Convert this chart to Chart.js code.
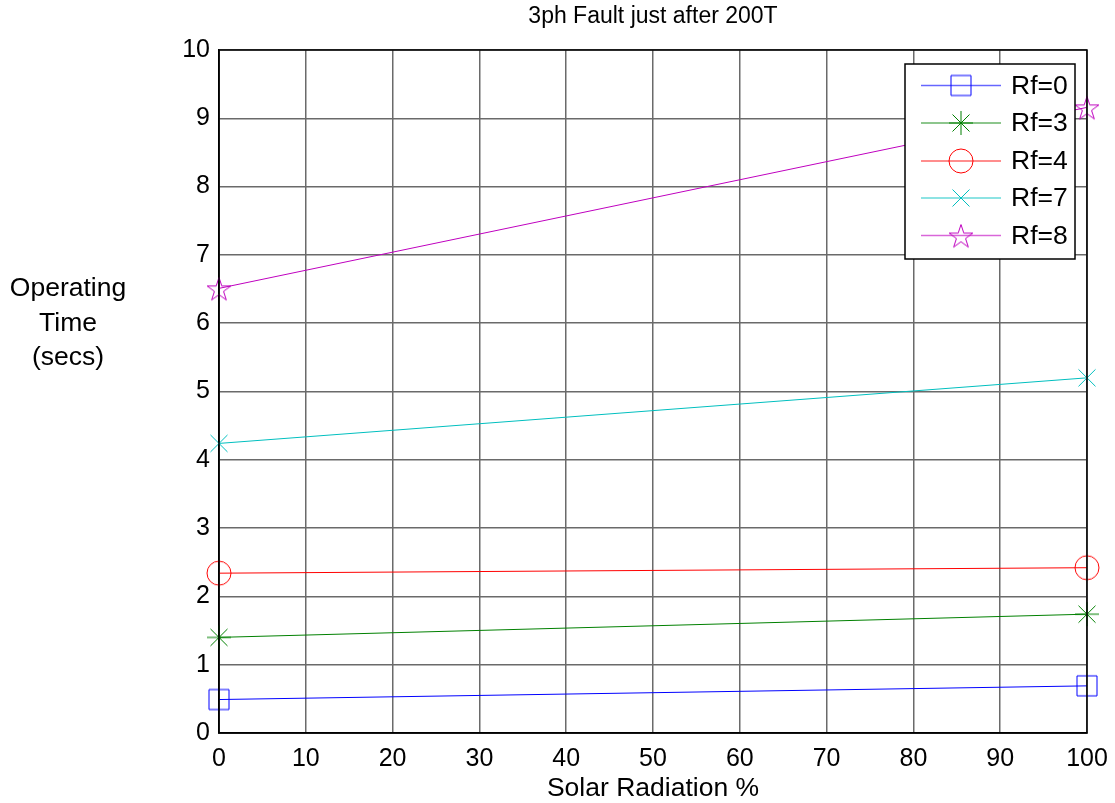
<!DOCTYPE html>
<html>
<head>
<meta charset="utf-8">
<script src="https://cdn.jsdelivr.net/npm/chart.js@4/dist/chart.umd.min.js"></script>
<style>
  html, body { margin: 0; padding: 0; background: #fff; }
  #wrap { width: 1115px; height: 803px; }
</style>
</head>
<body>
<div id="wrap"><canvas id="c" width="1115" height="803"></canvas></div>
<script>
// Solar radiation levels (%) and operating times (s) for each fault resistance
const solarRadiation = [0, 100];
const rf0 = [0.49, 0.69];
const rf3 = [1.40, 1.74];
const rf4 = [2.34, 2.42];
const rf7 = [4.24, 5.20];
const rf8 = [6.51, 9.16];
const seriesLabels = ['Rf=0', 'Rf=3', 'Rf=4', 'Rf=7', 'Rf=8'];
const xTicks = [0, 10, 20, 30, 40, 50, 60, 70, 80, 90, 100];
const yTicks = [0, 1, 2, 3, 4, 5, 6, 7, 8, 9, 10];

const FONT = '"Liberation Sans", Arial, sans-serif';

// Marker glyphs drawn onto small canvases so the plot and the legend share them
function makeMarker(kind, color) {
  const s = 30, c = s / 2;
  const cv = document.createElement('canvas');
  cv.width = s; cv.height = s;
  const g = cv.getContext('2d');
  g.strokeStyle = color;
  g.lineWidth = 1;
  g.beginPath();
  if (kind === 'square') {
    g.rect(c - 10, c - 10, 20, 20);
  } else if (kind === 'asterisk') {
    const r = 12, d = 8.5;
    g.moveTo(c, c - r); g.lineTo(c, c + r);
    g.moveTo(c - r, c); g.lineTo(c + r, c);
    g.moveTo(c - d, c - d); g.lineTo(c + d, c + d);
    g.moveTo(c - d, c + d); g.lineTo(c + d, c - d);
  } else if (kind === 'circle') {
    g.arc(c, c, 12, 0, Math.PI * 2);
  } else if (kind === 'cross') {
    const d = 8.5;
    g.moveTo(c - d, c - d); g.lineTo(c + d, c + d);
    g.moveTo(c - d, c + d); g.lineTo(c + d, c - d);
  } else if (kind === 'pentagram') {
    const ro = 12.5, ri = ro * 0.382;
    for (let i = 0; i < 10; i++) {
      const r = i % 2 === 0 ? ro : ri;
      const a = -Math.PI / 2 + i * Math.PI / 5;
      const px = c + r * Math.cos(a), py = c + 1.5 + r * Math.sin(a);
      if (i === 0) g.moveTo(px, py); else g.lineTo(px, py);
    }
    g.closePath();
  }
  g.stroke();
  return cv;
}

const colors = ['#0000ff', '#008000', '#ff0000', '#00bfbf', '#bf00bf'];
const kinds = ['square', 'asterisk', 'circle', 'cross', 'pentagram'];
const values = [rf0, rf3, rf4, rf7, rf8];
const markers = kinds.map((k, i) => makeMarker(k, colors[i]));

const datasets = values.map((v, i) => ({
  label: seriesLabels[i],
  data: solarRadiation.map((x, j) => ({ x: x, y: v[j] })),
  borderColor: colors[i],
  borderWidth: 1,
  pointStyle: markers[i],
  pointRadius: 12,
  pointHoverRadius: 12,
  fill: false,
  tension: 0,
  clip: false
}));

// Frame, axis labels, title and legend box
const decorations = {
  id: 'decorations',
  afterDatasetsDraw(chart) {
    const ctx = chart.ctx, a = chart.chartArea;
    ctx.save();
    ctx.strokeStyle = '#000';
    ctx.lineWidth = 1.5;
    ctx.strokeRect(a.left, a.top, a.right - a.left, a.bottom - a.top);

    ctx.fillStyle = '#000';
    ctx.textAlign = 'center';
    ctx.textBaseline = 'middle';
    ctx.font = '23px ' + FONT;
    ctx.fillText('3ph Fault just after 200T', (a.left + a.right) / 2, 17);

    ctx.font = '26.5px ' + FONT;
    ctx.fillText('Solar Radiation %', (a.left + a.right) / 2, 789);

    ctx.font = '26.5px ' + FONT;
    ['Operating', 'Time', '(secs)'].forEach((t, i) => ctx.fillText(t, 68, 289 + i * 34.5));

    // legend
    const lx = 905, ly = 64, lw = 170, lh = 195;
    ctx.fillStyle = '#fff';
    ctx.fillRect(lx, ly, lw, lh);
    ctx.strokeStyle = '#000';
    ctx.lineWidth = 1.5;
    ctx.strokeRect(lx, ly, lw, lh);
    const rows = [85.5, 123, 161, 198, 235.5];
    ctx.font = '26.5px ' + FONT;
    ctx.textAlign = 'left';
    chart.data.datasets.forEach((ds, i) => {
      const y = rows[i];
      ctx.strokeStyle = ds.borderColor;
      ctx.globalAlpha = 0.6;
      ctx.lineWidth = 1.5;
      ctx.beginPath();
      ctx.moveTo(921, y); ctx.lineTo(1001, y);
      ctx.stroke();
      ctx.globalAlpha = 1;
      const m = ds.pointStyle;
      ctx.drawImage(m, 961 - m.width / 2, y - m.height / 2);
      ctx.fillStyle = '#000';
      ctx.fillText(ds.label, 1011, y + 1);
    });
    ctx.restore();
  }
};

new Chart(document.getElementById('c'), {
  type: 'line',
  data: { datasets: datasets },
  options: {
    responsive: false,
    animation: false,
    events: [],
    layout: { padding: { left: 0, right: 28, top: 50, bottom: 0 } },
    plugins: { legend: { display: false }, title: { display: false }, tooltip: { enabled: false } },
    scales: {
      x: {
        type: 'linear',
        min: 0, max: 100,
        afterBuildTicks(scale) { scale.ticks = xTicks.map(v => ({ value: v })); },
        afterFit(scale) { scale.height = 70; scale.paddingLeft = 0; scale.paddingRight = 0; },
        ticks: { color: '#000', font: { family: FONT, size: 25 }, padding: 11, maxRotation: 0, autoSkip: false },
        grid: { color: '#6a6a6a', lineWidth: 1.5, drawTicks: false },
        border: { color: '#000', width: 1.5 }
      },
      y: {
        type: 'linear',
        min: 0, max: 10,
        afterBuildTicks(scale) { scale.ticks = yTicks.map(v => ({ value: v })); },
        afterFit(scale) { scale.width = 219; scale.paddingTop = 0; scale.paddingBottom = 0; },
        ticks: { color: '#000', font: { family: FONT, size: 25 }, padding: 9, autoSkip: false },
        grid: { color: '#6a6a6a', lineWidth: 1.5, drawTicks: false },
        border: { color: '#000', width: 1.5 }
      }
    }
  },
  plugins: [decorations]
});
</script>
</body>
</html>
